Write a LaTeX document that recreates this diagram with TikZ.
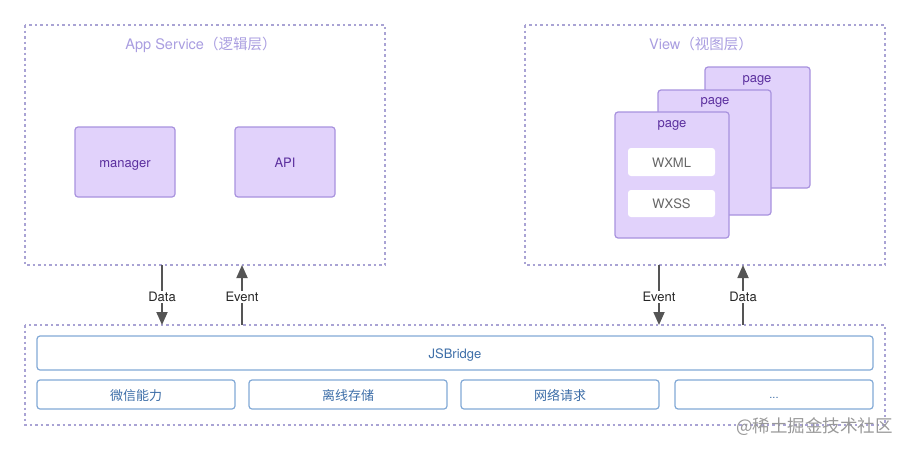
\documentclass[tikz,border=0pt]{standalone}
\usepackage{fontspec}
\setmainfont{TeX Gyre Heros}
\newfontfamily\cjk{Noto Sans CJK SC}
\usetikzlibrary{arrows.meta}
\definecolor{dashc}{HTML}{A9A3D4}
\definecolor{titlec}{HTML}{A99DE0}
\definecolor{pfill}{HTML}{E1D2FB}
\definecolor{pdraw}{HTML}{A892DE}
\definecolor{ptext}{HTML}{5B2F9E}
\definecolor{bdraw}{HTML}{82A9D6}
\definecolor{btext}{HTML}{3D6EA8}
\definecolor{arrc}{HTML}{555555}
\definecolor{wtext}{HTML}{666666}
\begin{document}
\begin{tikzpicture}[x=1pt,y=-1pt,
  every node/.style={anchor=base,inner sep=0pt},
  layer/.style={draw=dashc,line width=1.2pt,dash pattern=on 2.5pt off 3pt},
  purplebox/.style={draw=pdraw,fill=pfill,line width=1.2pt,rounded corners=3pt},
  innerbox/.style={fill=white,draw=none,rounded corners=3pt},
  bluebox/.style={draw=bdraw,fill=white,line width=1.2pt,rounded corners=3pt},
  ttl/.style={text=titlec,font=\fontsize{14.5}{16}\selectfont},
  ptxt/.style={text=ptext,font=\fontsize{13}{15}\selectfont},
  btxt/.style={text=btext,font=\fontsize{13}{15}\selectfont},
  ctxt/.style={text=btext,font=\cjk\fontsize{13}{15}\selectfont},
  atxt/.style={text=black!85,font=\fontsize{13}{15}\selectfont,fill=white,inner sep=1.5pt},
  arr/.style={draw=arrc,line width=1.8pt,-{Triangle[length=13pt,width=11pt]}},
]
\useasboundingbox (0,0) rectangle (910,450);
% layers
\draw[layer] (25,25) rectangle (385,265);
\coordinate (appS) at (162,265); \coordinate (appE) at (242,265);
\draw[layer] (525,25) rectangle (885,265);
\coordinate (viewE) at (659,265); \coordinate (viewD) at (743,265);
\draw[layer] (25,325) rectangle (885,425);
\coordinate (bD) at (162,325); \coordinate (bE) at (242,325);
\coordinate (bE2) at (659,325); \coordinate (bD2) at (743,325);
\node[ttl] (t1) at (201,49) {App Service{\cjk（逻辑层）}};
\node[ttl] (t2) at (701,49) {View{\cjk（视图层）}};
% app service
\draw[purplebox] (75,127) rectangle (175,197);
\node[ptxt] (mgr) at (125,167.5) {manager};
\draw[purplebox] (235,127) rectangle (335,197);
\node[ptxt] (api) at (285,167.5) {API};
% pages
\draw[purplebox] (705,67) rectangle (810,188);
\node[ptxt] (p3) at (757,82) {page};
\draw[purplebox] (658,90) rectangle (771,215);
\node[ptxt] (p2) at (715,104.5) {page};
\draw[purplebox] (615,112) rectangle (729,238);
\node[ptxt] (p1) at (672,127.5) {page};
\draw[innerbox] (628,148) rectangle (715,176);
\node[text=wtext,font=\fontsize{13}{15}\selectfont] (wxml) at (671.5,167) {WXML};
\draw[innerbox] (628,190) rectangle (715,217);
\node[text=wtext,font=\fontsize{13}{15}\selectfont] (wxss) at (671.5,208.5) {WXSS};
% bridge
\draw[bluebox] (37,336) rectangle (873,370);
\node[btxt] (jsb) at (455,358.5) {JSBridge};
\draw[bluebox] (37,380) rectangle (235,409);
\node[ctxt] (c1) at (136,400) {微信能力};
\draw[bluebox] (249,380) rectangle (447,409);
\node[ctxt] (c2) at (348,400) {离线存储};
\draw[bluebox] (461,380) rectangle (659,409);
\node[ctxt] (c3) at (560,400) {网络请求};
\draw[bluebox] (675,380) rectangle (873,409);
\node[btxt,font=\fontsize{11}{13}\selectfont] (c4) at (774,398) {...};
% arrows
\draw[arr] (appS) -- (bD);
\node[atxt] (l1) at (162,301.5) {Data};
\draw[arr] (bE) -- (appE);
\node[atxt] (l2) at (242,301.5) {Event};
\draw[arr] (viewE) -- (bE2);
\node[atxt] (l3) at (659,301.5) {Event};
\draw[arr] (bD2) -- (viewD);
\node[atxt] (l4) at (743,301.5) {Data};
% watermark
\node[text=black!40,font=\cjk\fontsize{17.5}{19}\selectfont,anchor=base east] (wm) at (893,432) {@稀土掘金技术社区};
\end{tikzpicture}
\end{document}
